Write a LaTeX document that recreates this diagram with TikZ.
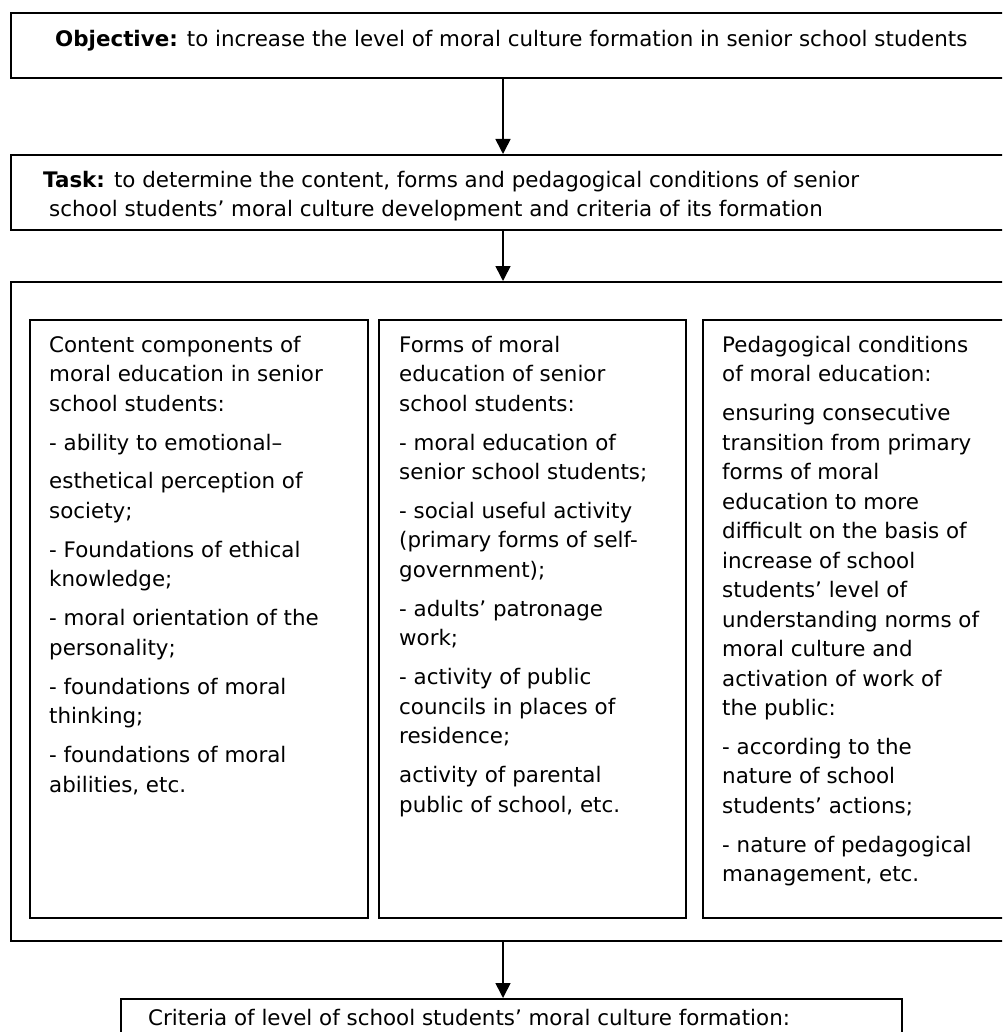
\documentclass[tikz,border=0pt]{standalone}
\usepackage{fontspec}
\setmainfont{DejaVu Sans}
\usepackage{tikz}
\usetikzlibrary{arrows.meta, positioning}

\begin{document}
\begin{tikzpicture}[x=1pt, y=-1pt,
  frame/.style={draw=black, line width=1.6pt, inner sep=0pt, anchor=north west},
  txt/.style={inner sep=0pt, align=left, font=\fontsize{21.4}{29.5}\selectfont},
  arr/.style={line width=1.6pt, -{Triangle[length=15pt, width=15pt]}}]
  \useasboundingbox (0,0) rectangle (1002,1032);
  \clip (0,0) rectangle (1002,1032);
  \def\gap{9.4pt}
  % Objective
  \node[frame, minimum width=1000pt, minimum height=65pt] (objective) at (10,12) {};
  \node[txt, anchor=base west] (objtext) at (55,47)
    {\textbf{Objective:} to increase the level of moral culture formation in senior school students};
  % Task
  \node[frame, minimum width=1000pt, minimum height=75pt] (task) at (10,154) {};
  \node[txt, anchor=north west] (tasktext) at (43,170.7)
    {\textbf{Task:} to determine the content, forms and pedagogical conditions of senior\\
     \hspace*{6pt}school students’ moral culture development and criteria of its formation};
  % Outer frame and three panels
  \node[frame, minimum width=1000pt, minimum height=659pt] (main) at (10,281) {};
  \node[frame, minimum width=338pt, minimum height=598pt] (content) at (29,319) {};
  \node[frame, minimum width=307pt, minimum height=598pt] (forms) at (378,319) {};
  \node[frame, minimum width=310pt, minimum height=598pt] (conditions) at (702,319) {};
  % Panel texts
  \node[txt, anchor=north west] (contenttext) at ([xshift=20pt, yshift=-16.7pt]content.north west)
    {Content components of\\moral education in senior\\school students:\\[\gap]
     - ability to emotional–\\[\gap]
     esthetical perception of\\society;\\[\gap]
     - Foundations of ethical\\knowledge;\\[\gap]
     - moral orientation of the\\personality;\\[\gap]
     - foundations of moral\\thinking;\\[\gap]
     - foundations of moral\\abilities, etc.};
  \node[txt, anchor=north west] (formstext) at ([xshift=21pt, yshift=-16.7pt]forms.north west)
    {Forms of moral\\education of senior\\school students:\\[\gap]
     - moral education of\\senior school students;\\[\gap]
     - social useful activity\\(primary forms of self-\\government);\\[\gap]
     - adults’ patronage\\work;\\[\gap]
     - activity of public\\councils in places of\\residence;\\[\gap]
     activity of parental\\public of school, etc.};
  \node[txt, anchor=north west] (condtext) at ([xshift=20pt, yshift=-16.7pt]conditions.north west)
    {Pedagogical conditions\\of moral education:\\[\gap]
     ensuring consecutive\\transition from primary\\forms of moral\\education to more\\
     difficult on the basis of\\increase of school\\students’ level of\\
     understanding norms of\\moral culture and\\activation of work of\\the public:\\[\gap]
     - according to the\\nature of school\\students’ actions;\\[\gap]
     - nature of pedagogical\\management, etc.};
  % Criteria
  \node[frame, minimum width=781pt, minimum height=60pt] (criteria) at (120,998) {};
  \node[txt, anchor=base west] (critext) at (148,1025)
    {Criteria of level of school students’ moral culture formation:};
  % Arrows
  \coordinate (axis) at (503,0);
  \draw[arr] (axis |- objective.south) -- (axis |- task.north);
  \draw[arr] (axis |- task.south) -- (axis |- main.north);
  \draw[arr] (axis |- main.south) -- (axis |- criteria.north);
\end{tikzpicture}
\end{document}
